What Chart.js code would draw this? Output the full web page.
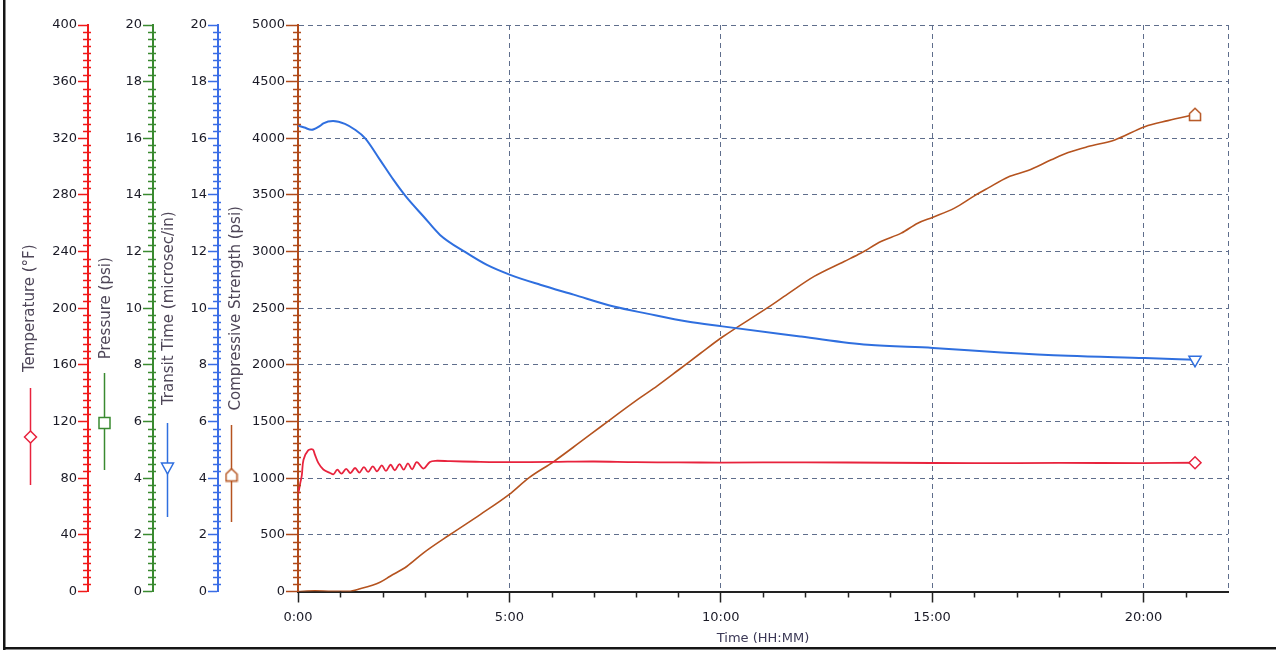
<!DOCTYPE html>
<html>
<head>
<meta charset="utf-8">
<script src="https://cdn.jsdelivr.net/npm/chart.js@4/dist/chart.umd.min.js"></script>
<style>
html,body{margin:0;padding:0;background:#fff;}
#wrap{width:1276px;height:653px;position:relative;}
</style>
</head>
<body>
<div id="wrap"><canvas id="c"></canvas></div>
<script>
// ---------- DATA ----------
const xAxisTitle = 'Time (HH:MM)';
const majorHours = [0, 5, 10, 15, 20];
const majorHourLabels = ['0:00', '5:00', '10:00', '15:00', '20:00'];

const tempTitle = 'Temperature (°F)';
const pressureTitle = 'Pressure (psi)';
const transitTitle = 'Transit Time (microsec/in)';
const strengthTitle = 'Compressive Strength (psi)';

// Temperature (°F) vs time (hours)
const tempHours = [0, 0.05, 0.09, 0.13, 0.24, 0.35, 0.40, 0.48, 0.60, 0.76, 0.84,
  0.93, 1.03, 1.14, 1.24, 1.35, 1.45, 1.56, 1.66, 1.77, 1.87, 1.98, 2.08, 2.19, 2.29,
  2.40, 2.50, 2.60, 2.70, 2.81, 2.97, 3.12, 3.25, 3.6, 4.2, 5.0, 6.0, 7.0, 8.0, 9.0,
  10.0, 12.0, 14.0, 16.0, 18.0, 20.0, 21.22];
const tempValues = [68, 76, 82, 93, 99.7, 100.2, 96.6, 90.8, 86.1, 83.7, 82.8,
  86.0, 83.2, 86.6, 83.6, 87.2, 84.0, 87.8, 84.4, 88.4, 84.8, 89.0, 85.2, 89.5, 85.6,
  90.0, 86.0, 90.5, 86.3, 91.3, 86.8, 91.5, 92.3, 92.0, 91.6, 91.3, 91.5, 91.8, 91.3, 91.2,
  91.0, 91.2, 90.9, 90.6, 90.8, 90.7, 90.9];

// Transit time (microsec/in) vs time (hours)
const transitHours = [0, 0.15, 0.32, 0.52, 0.6, 0.83, 1.11, 1.35, 1.59, 1.94, 2.26,
  2.56, 2.97, 3.36, 3.96, 4.47, 5.02, 5.73, 6.52, 7.47, 8.26, 9.21, 10.04, 11.42,
  11.9, 13.48, 15.02, 16.64, 18.22, 20.03, 21.22];
const transitValues = [16.45, 16.38, 16.30, 16.44, 16.53, 16.61, 16.51, 16.30, 16.00,
  15.24, 14.53, 13.93, 13.24, 12.59, 11.98, 11.53, 11.18, 10.83, 10.48, 10.06, 9.81,
  9.53, 9.36, 9.09, 9.00, 8.71, 8.60, 8.44, 8.32, 8.24, 8.18];

// Compressive strength (psi) vs time (hours)
const strengthHours = [0, 0.4, 0.8, 1.2, 1.47, 1.94, 2.18, 2.58, 2.97, 3.6, 4.31, 4.99,
  5.46, 6.05, 6.68, 7.2, 8.03, 8.5, 9.0, 9.53, 10.04, 11.11, 11.58, 12.21, 12.92, 13.32,
  13.79, 14.27, 14.66, 15.02, 15.53, 16.0, 16.32, 16.79, 17.27, 17.82, 18.22, 18.69,
  19.32, 20.03, 20.58, 21.22];
const strengthValues = [0, 6, 2, 2, 24, 82, 135, 223, 341, 503, 679, 855,
  1003, 1147, 1320, 1465, 1693, 1815, 1955, 2105, 2246, 2505, 2625, 2781, 2913, 2987,
  3089, 3163, 3251, 3304, 3384, 3492, 3560, 3657, 3715, 3810, 3874, 3927,
  3986, 4103, 4156, 4210];

// ---------- STYLE ----------
const FONT = "'DejaVu Sans', sans-serif";
const RED = '#e8233d', RED_AXIS = '#f01a1a';
const GREEN = '#3a8a30';
const BLUE = '#2f6fdf', BLUE_AXIS = '#3a6de6';
const BROWN = '#b5531f', BROWN_AXIS = '#b04a1a';
const GRID = '#5f6e8c';
const LABEL = '#1a1a26';
const TITLE = '#4e4658';

const toPoints = (xs, ys) => xs.map((x, i) => ({x: x, y: ys[i]}));
const lastOnly = r => ctx => (ctx.dataIndex === ctx.dataset.data.length - 1 ? r : 0);

// house-shaped marker
const house = document.createElement('canvas');
house.width = 14; house.height = 15;
(function () {
  const g = house.getContext('2d');
  g.beginPath();
  g.moveTo(1.5, 6.5); g.lineTo(7, 1.2); g.lineTo(12.5, 6.5);
  g.lineTo(12.5, 13.5); g.lineTo(1.5, 13.5); g.closePath();
  g.fillStyle = '#fff'; g.fill();
  g.lineWidth = 1.5; g.strokeStyle = BROWN; g.stroke();
})();

function leftAxis(o) {
  return {
    type: 'linear', position: 'left', weight: o.weight,
    min: o.min, max: o.max,
    ticks: {stepSize: o.step, color: LABEL, font: {family: FONT, size: 13}, padding: 1,
      autoSkip: false, maxTicksLimit: 50, callback: v => String(v)},
    grid: {
      drawOnChartArea: !!o.grid,
      color: o.grid ? (c => (c.tick && c.tick.value > 0 ? GRID : 'rgba(0,0,0,0)')) : o.color,
      lineWidth: 1,
      tickColor: o.color, tickLength: o.tickLength, tickWidth: 1.5
    },
    border: {color: o.color, width: 2, dash: o.grid ? [5, 4] : []},
    title: {display: true, text: o.title, color: TITLE,
      font: {family: FONT, size: 15}, padding: {top: o.tpad, bottom: 0}},
    afterFit(scale) { scale.width = o.width; }
  };
}

const minorCfg = [
  {id: 'yTemp', step: 5, major: 40, color: RED_AXIS},
  {id: 'yPress', step: 0.25, major: 2, color: GREEN},
  {id: 'yTransit', step: 0.25, major: 2, color: BLUE_AXIS},
  {id: 'yStrength', step: 62.5, major: 500, color: BROWN_AXIS}
];

function drawMarker(ctx, kind, x, y, color) {
  if (kind === 'house') {
    ctx.drawImage(house, x - house.width / 2, y - house.height / 2);
    return;
  }
  ctx.save();
  ctx.lineWidth = 1.5; ctx.strokeStyle = color; ctx.fillStyle = '#fff';
  ctx.beginPath();
  if (kind === 'diamond') {
    ctx.moveTo(x, y - 6); ctx.lineTo(x + 6, y); ctx.lineTo(x, y + 6); ctx.lineTo(x - 6, y); ctx.closePath();
  } else if (kind === 'square') {
    ctx.rect(x - 5.5, y - 5.5, 11, 11);
  } else if (kind === 'tri') {
    ctx.moveTo(x - 6, y - 5); ctx.lineTo(x + 6, y - 5); ctx.lineTo(x, y + 6); ctx.closePath();
  }
  ctx.fill(); ctx.stroke();
  ctx.restore();
}

const decor = {
  id: 'decor',
  beforeDraw(chart) {
    const ctx = chart.ctx;
    ctx.save();
    ctx.fillStyle = '#fff';
    ctx.fillRect(0, 0, chart.width, chart.height);
    ctx.fillStyle = '#151515';
    ctx.fillRect(3, 0, 2.5, 650);
    ctx.fillRect(3, 647, chart.width - 3, 2.5);
    ctx.restore();
  },
  afterDraw(chart) {
    const ctx = chart.ctx;
    ctx.save();
    ctx.lineWidth = 1.5;
    minorCfg.forEach(m => {
      const s = chart.scales[m.id];
      const x = s.right;
      ctx.strokeStyle = m.color;
      const n = Math.round((s.max - s.min) / m.step);
      for (let i = 0; i <= n; i++) {
        const v = s.min + i * m.step;
        const r = v / m.major;
        if (Math.abs(r - Math.round(r)) < 1e-6) continue;
        const y = Math.round(s.getPixelForValue(v)) + 0.5;
        ctx.beginPath(); ctx.moveTo(x - 5, y); ctx.lineTo(x + 3, y); ctx.stroke();
      }
    });
    const xs = chart.scales.x;
    ctx.strokeStyle = '#222';
    for (let h = Math.ceil(xs.min); h < xs.max; h++) {
      if (h % 5 === 0) continue;
      const x = Math.round(xs.getPixelForValue(h)) + 0.5;
      ctx.beginPath(); ctx.moveTo(x, xs.top); ctx.lineTo(x, xs.top + 6); ctx.stroke();
    }
    const ca = chart.chartArea;
    const legend = [
      {id: 'yTemp', dx: 22, y1: 363, y2: 460, my: 412, kind: 'diamond', color: RED},
      {id: 'yPress', dx: 16, y1: 348, y2: 445, my: 398, kind: 'square', color: GREEN},
      {id: 'yTransit', dx: 14, y1: 398, y2: 492, my: 443, kind: 'tri', color: BLUE},
      {id: 'yStrength', dx: 13, y1: 400, y2: 497, my: 450, kind: 'house', color: BROWN}
    ];
    legend.forEach(l => {
      const s = chart.scales[l.id];
      const x = Math.round(s.left + l.dx) + 0.5;
      ctx.strokeStyle = l.color; ctx.lineWidth = 1.5;
      ctx.beginPath(); ctx.moveTo(x, ca.top + l.y1); ctx.lineTo(x, ca.top + l.y2); ctx.stroke();
      drawMarker(ctx, l.kind, x, ca.top + l.my, l.color);
    });
    ctx.restore();
  }
};

new Chart(document.getElementById('c'), {
  type: 'line',
  data: {
    datasets: [
      {label: 'Transit Time', yAxisID: 'yTransit', data: toPoints(transitHours, transitValues),
        borderColor: BLUE, borderWidth: 2, cubicInterpolationMode: 'monotone', fill: false,
        pointStyle: 'triangle', pointRotation: 180, pointRadius: lastOnly(7),
        pointBackgroundColor: '#fff', pointBorderColor: BLUE, pointBorderWidth: 1.5},
      {label: 'Temperature', yAxisID: 'yTemp', data: toPoints(tempHours, tempValues),
        borderColor: RED, borderWidth: 1.8, tension: 0.35, fill: false,
        pointStyle: 'rectRot', pointRadius: lastOnly(6),
        pointBackgroundColor: '#fff', pointBorderColor: RED, pointBorderWidth: 1.5},
      {label: 'Compressive Strength', yAxisID: 'yStrength', data: toPoints(strengthHours, strengthValues),
        borderColor: BROWN, borderWidth: 1.6, cubicInterpolationMode: 'monotone', fill: false,
        pointStyle: house, pointRadius: lastOnly(6)}
    ]
  },
  options: {
    responsive: true, maintainAspectRatio: false, animation: false, events: [],
    layout: {padding: {left: 8, right: 48, top: 25, bottom: 5}},
    plugins: {legend: {display: false}, tooltip: {enabled: false}},
    scales: {
      x: {
        type: 'linear', position: 'bottom', min: 0, max: 22,
        ticks: {stepSize: 1, autoSkip: false, maxTicksLimit: 50, maxRotation: 0,
          color: LABEL, font: {family: FONT, size: 13}, padding: 7,
          callback: v => { const i = majorHours.indexOf(v); return i >= 0 ? majorHourLabels[i] : ''; }},
        grid: {
          color: c => { const v = c.tick && c.tick.value; return ((v % 5 === 0 && v > 0) || v === 22) ? GRID : 'rgba(0,0,0,0)'; },
          lineWidth: 1,
          tickColor: c => { const v = c.tick && c.tick.value; return (v % 5 === 0 && v < 22) ? '#222' : 'rgba(0,0,0,0)'; },
          tickLength: 11, tickWidth: 1.5
        },
        border: {color: '#222', width: 2, dash: [5, 4]},
        title: {display: true, text: xAxisTitle, color: '#3b3856',
          font: {family: FONT, size: 13}, padding: {top: 0, bottom: 2}},
        afterFit(scale) { scale.height = 56.5; }
      },
      yTemp: leftAxis({weight: 4, min: 0, max: 400, step: 40, color: RED_AXIS, title: tempTitle,
        width: 80, tpad: 13, tickLength: 10}),
      yPress: leftAxis({weight: 3, min: 0, max: 20, step: 2, color: GREEN, title: pressureTitle,
        width: 65, tpad: 9, tickLength: 10}),
      yTransit: leftAxis({weight: 2, min: 0, max: 20, step: 2, color: BLUE_AXIS, title: transitTitle,
        width: 65, tpad: 7, tickLength: 10}),
      yStrength: leftAxis({weight: 1, min: 0, max: 5000, step: 500, color: BROWN_AXIS, title: strengthTitle,
        width: 80, tpad: 9, tickLength: 12, grid: true})
    }
  },
  plugins: [decor]
});
</script>
</body>
</html>
